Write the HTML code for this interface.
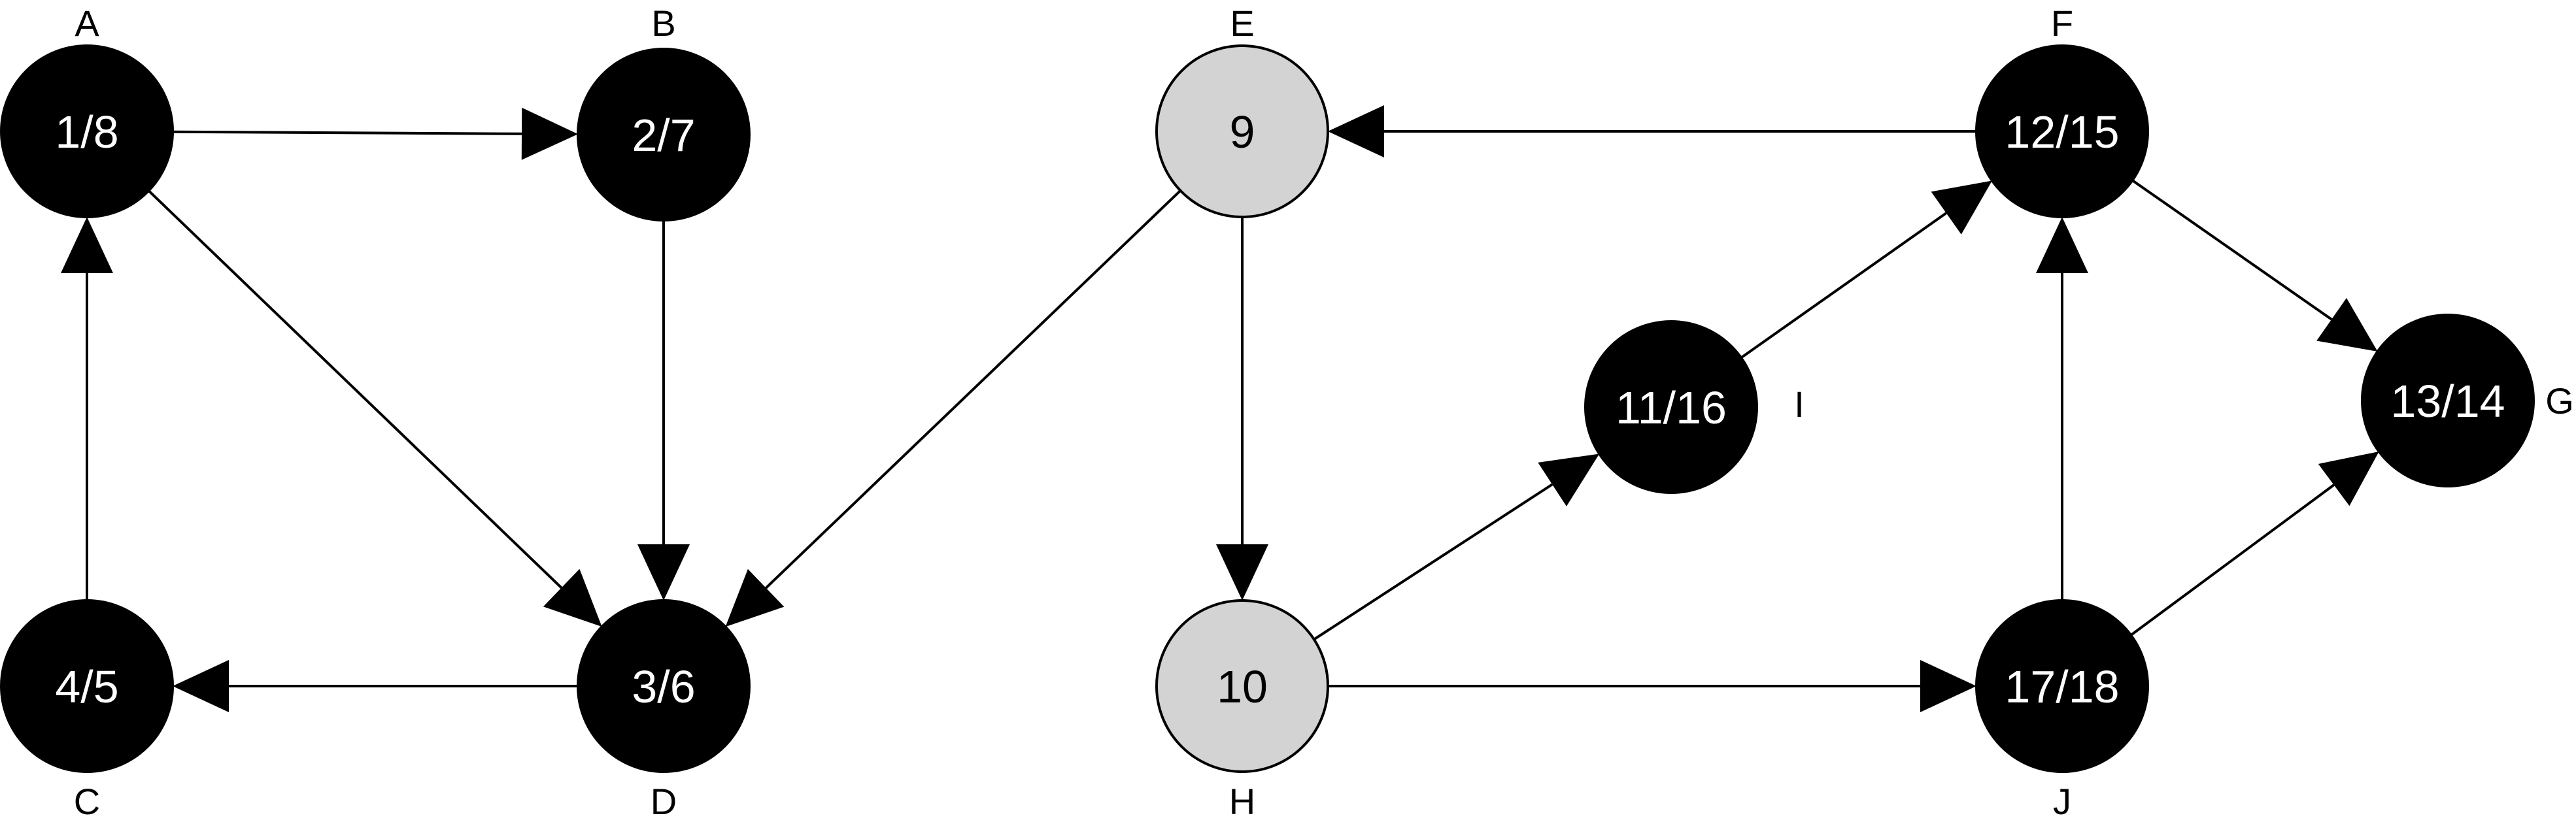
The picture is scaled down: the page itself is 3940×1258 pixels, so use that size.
<!DOCTYPE html>
<html><head><meta charset="utf-8"><style>
html,body{margin:0;padding:0;background:#fff;}
svg{display:block;}
text{font-family:"Liberation Sans Narrow","Liberation Sans",sans-serif;}
</style></head><body>
<svg id="g" width="3940" height="1258" viewBox="0 0 3940 1258" xmlns="http://www.w3.org/2000/svg"></svg>
<script>
const nodeIds = ["A","B","C","D","E","F","G","H","I","J"];
const nodeX = [133,1015,133,1015,1900,3154,3744,1900,2556,3154];
const nodeY = [201,206,1050,1050,201,201,613,1050,623,1050];
const nodeText = ["1/8","2/7","4/5","3/6","9","12/15","13/14","10","11/16","17/18"];
const nodeGray = [false,false,false,false,true,false,false,true,false,false];
const labelX = [133,1015,133,1015,1900,3154,3915,1900,2752,3154];
const labelY = [35,35,1226,1226,35,35,613,1226,618,1226];
const edgeFrom = ["A","B","A","D","C","E","F","E","H","H","I","J","F","J"];
const edgeTo   = ["B","D","D","C","A","D","E","H","I","J","F","F","G","G"];
const R = 131, AL = 86, AW = 40;
const NS = "http://www.w3.org/2000/svg";
const svg = document.getElementById('g');
function idx(n){return nodeIds.indexOf(n);}
for (let k=0;k<edgeFrom.length;k++){
  const a=idx(edgeFrom[k]), b=idx(edgeTo[k]);
  const x1=nodeX[a],y1=nodeY[a],x2=nodeX[b],y2=nodeY[b];
  const d=Math.hypot(x2-x1,y2-y1), ux=(x2-x1)/d, uy=(y2-y1)/d;
  const sx=x1+ux*R, sy=y1+uy*R, tx=x2-ux*R, ty=y2-uy*R;
  const bx=tx-ux*AL, by=ty-uy*AL;
  const line=document.createElementNS(NS,'line');
  
  
  line.setAttribute('x1',sx);line.setAttribute('y1',sy);line.setAttribute('x2',bx);line.setAttribute('y2',by);
  line.setAttribute('stroke','#000');line.setAttribute('stroke-width','4');
  svg.appendChild(line);
  const tri=document.createElementNS(NS,'polygon');
  
  
  tri.setAttribute('points',tx+','+ty+' '+(bx-uy*AW)+','+(by+ux*AW)+' '+(bx+uy*AW)+','+(by-ux*AW));
  tri.setAttribute('fill','#000');
  svg.appendChild(tri);
}
for (let i=0;i<nodeIds.length;i++){
  const c=document.createElementNS(NS,'circle');
  
  
  c.setAttribute('cx',nodeX[i]);c.setAttribute('cy',nodeY[i]);c.setAttribute('r',R);
  c.setAttribute('fill',nodeGray[i]?'#d3d3d3':'#000');
  c.setAttribute('stroke','#000');c.setAttribute('stroke-width','4');
  svg.appendChild(c);
  const t=document.createElementNS(NS,'text');
  
  
  t.setAttribute('x',nodeX[i]);t.setAttribute('y',nodeY[i]+25);
  t.setAttribute('text-anchor','middle');t.setAttribute('font-size','70');
  t.setAttribute('fill',nodeGray[i]?'#000':'#fff');
  t.textContent=nodeText[i];
  svg.appendChild(t);
  const l=document.createElementNS(NS,'text');
  
  
  l.setAttribute('x',labelX[i]);l.setAttribute('y',labelY[i]+20);
  l.setAttribute('text-anchor','middle');l.setAttribute('font-size','56');
  l.setAttribute('fill','#000');
  l.textContent=nodeIds[i];
  svg.appendChild(l);
}
</script>
</body></html>
